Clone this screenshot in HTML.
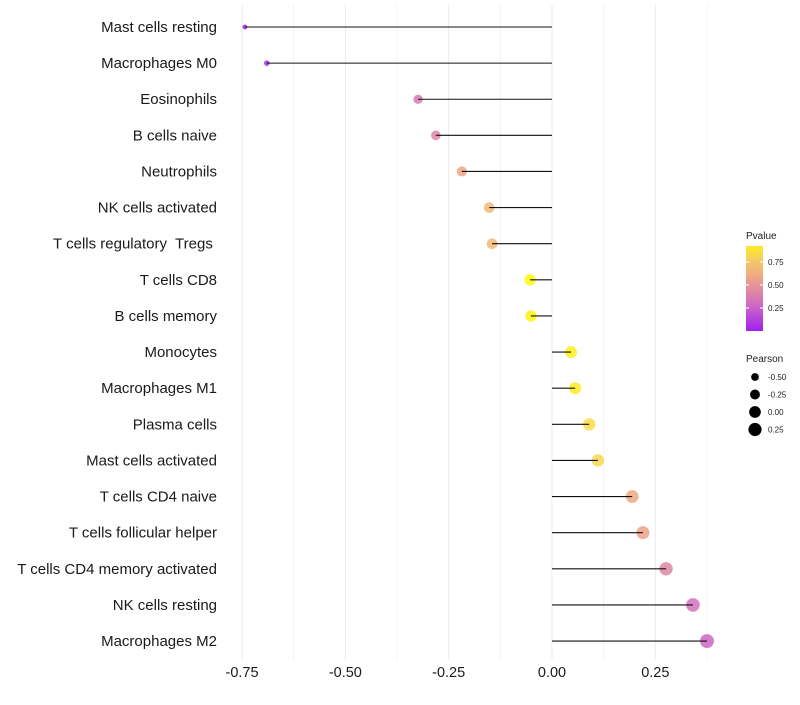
<!DOCTYPE html>
<html><head><meta charset="utf-8"><style>
body{margin:0;background:#fff;font-family:"Liberation Sans",sans-serif}
</style></head><body>
<svg id="chart" width="800" height="700"></svg>
<script>
const categories=["Mast cells resting","Macrophages M0","Eosinophils","B cells naive","Neutrophils","NK cells activated","T cells regulatory  Tregs ","T cells CD8","B cells memory","Monocytes","Macrophages M1","Plasma cells","Mast cells activated","T cells CD4 naive","T cells follicular helper","T cells CD4 memory activated","NK cells resting","Macrophages M2"];
const pearson=[-0.743,-0.690,-0.324,-0.281,-0.218,-0.152,-0.145,-0.053,-0.051,0.046,0.056,0.090,0.111,0.194,0.220,0.276,0.341,0.375];
const pvalue=[0.01,0.03,0.35,0.42,0.58,0.68,0.68,0.95,0.94,0.92,0.9,0.84,0.82,0.6,0.56,0.42,0.32,0.27];
const xTicks=[-0.75,-0.5,-0.25,0,0.25];
const xTickLabels=["-0.75","-0.50","-0.25","0.00","0.25"];
const pTicks=[0.25,0.5,0.75];
const sizeLegend=[-0.5,-0.25,0,0.25];

const NS="http://www.w3.org/2000/svg";
const svg=document.getElementById('chart');
function mk(tag,attrs,parent){const e=document.createElementNS(NS,tag);for(const k in attrs)e.setAttribute(k,attrs[k]);(parent||svg).appendChild(e);return e;}
const x=v=>552+v*413.3;
const y=i=>27+i*36.12;
const r=v=>Math.sqrt(Math.max(1,34+38*v));
const stops=[[0,[160,32,240]],[0.3,[210,110,190]],[0.45,[225,140,160]],[0.6,[238,170,130]],[0.78,[245,205,100]],[0.95,[255,248,10]]];
function col(p){p=Math.max(0,Math.min(0.95,p));for(let i=0;i<stops.length-1;i++){const[a,ca]=stops[i],[b,cb]=stops[i+1];if(p<=b){const t=(p-a)/(b-a);return`rgb(${ca.map((c,j)=>Math.round(c+(cb[j]-c)*t)).join(',')})`;}}return'rgb(255,248,10)';}

for(let v=-0.75;v<=0.38;v+=0.125){const g=mk('line',{x1:x(v),x2:x(v),y1:5,y2:660,stroke:'#ebebeb','stroke-width':Math.abs((v/0.25)%1)<0.01?1:0.6});
}
xTicks.forEach((v,i)=>{const t=mk('text',{x:x(v),y:677,'text-anchor':'middle','font-size':14.5,fill:'#1a1a1a'});t.textContent=xTickLabels[i];
});
categories.forEach((c,i)=>{
const t=mk('text',{x:217,y:y(i)+5,'text-anchor':'end','font-size':15,fill:'#1a1a1a',style:'white-space:pre'});t.textContent=c;

const d=mk('circle',{cx:x(pearson[i]),cy:y(i),r:r(pearson[i]),fill:col(pvalue[i]),'fill-opacity':0.85});

const l=mk('line',{x1:x(0),x2:x(pearson[i]),y1:y(i),y2:y(i),stroke:'#111','stroke-width':1.1});

});
const lt=mk('text',{x:746,y:239,'font-size':10,fill:'#222'});lt.textContent='Pvalue';

const defs=mk('defs',{});const gr=mk('linearGradient',{id:'pg',x1:0,y1:1,x2:0,y2:0},defs);
for(let p=0;p<=0.92;p+=0.046){mk('stop',{offset:p/0.92,'stop-color':col(p)},gr);}
const bar=mk('rect',{x:746,y:246,width:17,height:85,fill:'url(#pg)'});

const py=p=>331-p*92;
pTicks.forEach(p=>{mk('line',{x1:746,x2:749,y1:py(p),y2:py(p),stroke:'#fff'});mk('line',{x1:760,x2:763,y1:py(p),y2:py(p),stroke:'#fff'});
const t=mk('text',{x:768,y:py(p)+3,'font-size':8,fill:'#222'});t.textContent=p.toFixed(2);
});
const st=mk('text',{x:746,y:362,'font-size':10,fill:'#222'});st.textContent='Pearson';

sizeLegend.forEach((v,i)=>{const cy=377+i*17.5;
const c=mk('circle',{cx:755,cy:cy,r:r(v),fill:'#000'});
const t=mk('text',{x:768,y:cy+3,'font-size':8,fill:'#222'});t.textContent=v.toFixed(2);
});
</script>
</body></html>
